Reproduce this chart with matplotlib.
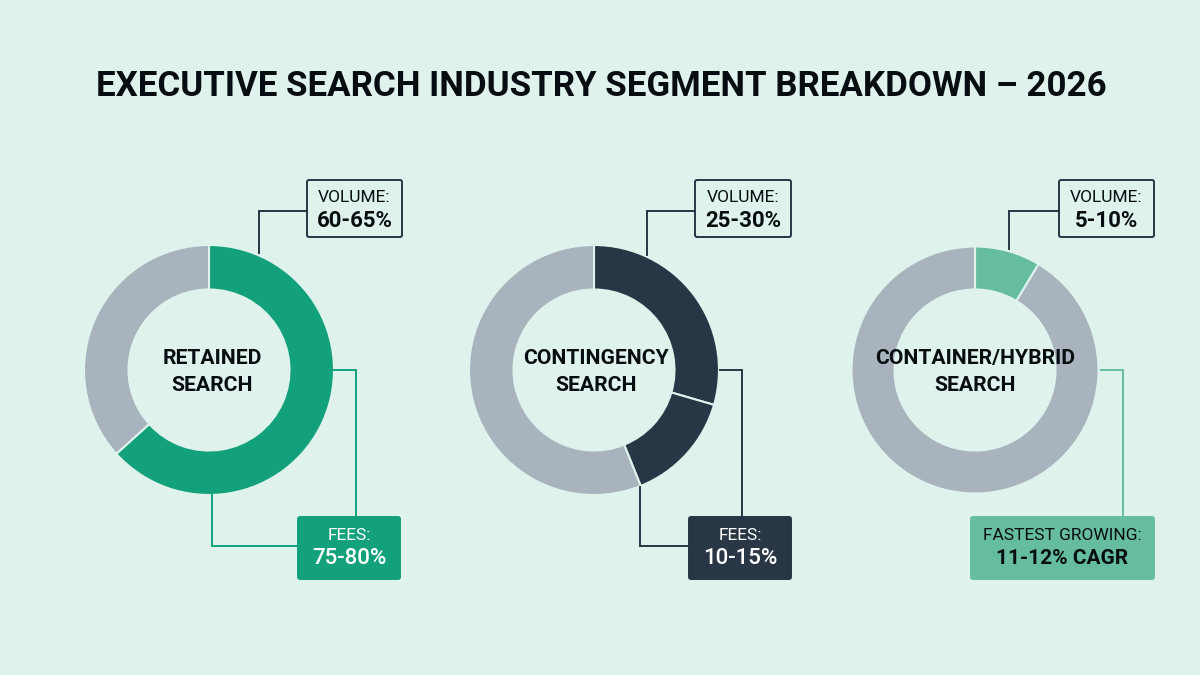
import matplotlib
matplotlib.use("Agg")
import matplotlib.pyplot as plt
from matplotlib.patches import FancyBboxPatch

plt.rcParams["font.family"] = ["Roboto", "DejaVu Sans"]

BG = "#DFF3EC"
GREY = "#A8B3BD"
GREEN = "#12A17A"
NAVY = "#283645"
MINT = "#66BC9E"
INK = "#080D12"

title = "EXECUTIVE SEARCH INDUSTRY SEGMENT BREAKDOWN – 2026"

# share of each ring, clockwise from the top
retained_vals = [63.3, 36.7]
contingency_vals = [29.5, 14.4, 56.1]
hybrid_vals = [8.6, 91.4]

retained_cols = [GREEN, GREY]
contingency_cols = [NAVY, NAVY, GREY]
hybrid_cols = [MINT, GREY]

center_labels = ["RETAINED\nSEARCH", "CONTINGENCY\nSEARCH", "CONTAINER/HYBRID\nSEARCH"]
volume_labels = ["60-65%", "25-30%", "5-10%"]
fee_heads = ["FEES:", "FEES:", "FASTEST GROWING:"]
fee_values = ["75-80%", "10-15%", "11-12% CAGR"]

H = 675


def Y(y):
    return H - y


def elbow(ax, xs, ys, color):
    ax.plot(xs, [Y(v) for v in ys], color=color, lw=1.4, solid_joinstyle="miter", zorder=1)


def box(ax, x0, x1, y0, y1, face, edge):
    ax.add_patch(FancyBboxPatch((x0 + 2, Y(y1) + 2), x1 - x0 - 4, y1 - y0 - 4,
                                boxstyle="round,pad=2,rounding_size=2",
                                facecolor=face, edgecolor=edge, lw=1.4, zorder=3))


def donut(ax, vals, cols, cx, radius, ring):
    ax.pie(vals, colors=cols, center=(cx, Y(370)), radius=radius, startangle=90, counterclock=False,
           wedgeprops={"width": ring, "edgecolor": BG, "linewidth": 1.5})


fig = plt.figure(figsize=(12, 6.75), dpi=100, facecolor=BG)
ax = fig.add_axes([0, 0, 1, 1])

donut(ax, retained_vals, retained_cols, 209, 125, 44.5)
donut(ax, contingency_vals, contingency_cols, 594, 125, 44.5)
donut(ax, hybrid_vals, hybrid_cols, 975, 123.5, 43)

ax.set_xlim(0, 1200)
ax.set_ylim(0, H)
ax.set_aspect("auto")
ax.axis("off")

ax.text(601, Y(87), title, ha="center", va="center", fontsize=25.1, fontweight="bold", color=INK)

# connectors
elbow(ax, [259, 259, 307], [253, 211, 211], NAVY)
elbow(ax, [334, 356, 356], [370, 370, 517], GREEN)
elbow(ax, [212, 212, 298], [495, 546, 546], GREEN)
elbow(ax, [647, 647, 695], [255, 211, 211], NAVY)
elbow(ax, [720, 742, 742], [370, 370, 517], NAVY)
elbow(ax, [640, 640, 689], [487, 546, 546], NAVY)
elbow(ax, [1009, 1009, 1059], [249, 211, 211], NAVY)
elbow(ax, [1101, 1123, 1123], [370, 370, 517], MINT)

# volume and fee boxes
vol_x = [(307, 402), (695, 791), (1059, 1154)]
fee_x = [(298, 400), (689, 791), (971, 1154)]
fee_cols = [GREEN, NAVY, MINT]
fee_text = ["white", "white", INK]
fee_weight = ["medium", "medium", "bold"]
label_x = [212, 596, 975]

for i in range(3):
    ax.text(label_x[i], Y(372), center_labels[i], ha="center", va="center", fontsize=15.2,
            fontweight="bold", color=INK, linespacing=1.5, zorder=4)

    x0, x1 = vol_x[i]
    box(ax, x0, x1, 180, 237, BG, NAVY)
    ax.text((x0 + x1) / 2, Y(198), "VOLUME:", ha="center", va="center", fontsize=12.5, color=INK, zorder=4)
    ax.text((x0 + x1) / 2, Y(221), volume_labels[i], ha="center", va="center", fontsize=16,
            fontweight="bold", color=INK, zorder=4)

    x0, x1 = fee_x[i]
    box(ax, x0, x1, 517, 579, fee_cols[i], fee_cols[i])
    ax.text((x0 + x1) / 2, Y(536), fee_heads[i], ha="center", va="center", fontsize=12.5,
            color=fee_text[i], zorder=4)
    ax.text((x0 + x1) / 2, Y(559), fee_values[i], ha="center", va="center", fontsize=16 if i < 2 else 15,
            fontweight=fee_weight[i], color=fee_text[i], zorder=4)

fig.savefig("out.png", dpi=100, facecolor=BG)
